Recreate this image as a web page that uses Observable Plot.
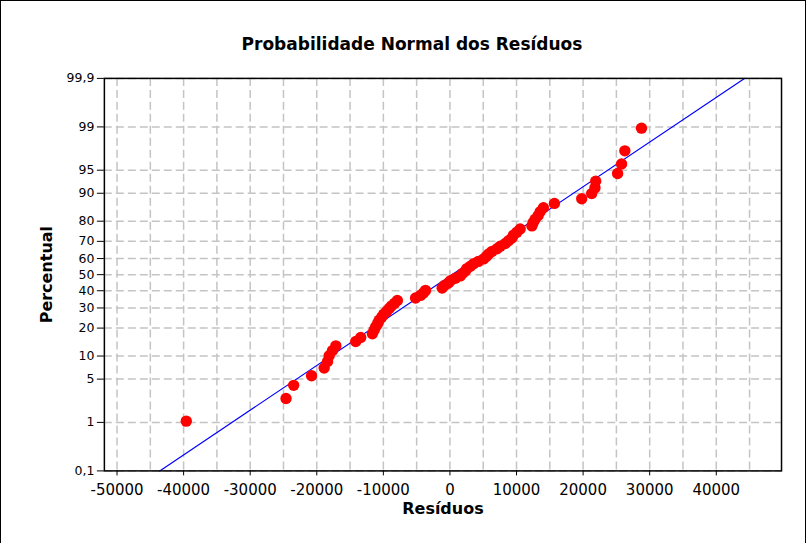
<!DOCTYPE html>
<html>
<head>
<meta charset="utf-8">
<script src="https://cdn.jsdelivr.net/npm/d3@7"></script>
<script src="https://cdn.jsdelivr.net/npm/@observablehq/plot@0.6"></script>
<style>
  html, body { margin: 0; padding: 0; background: white; }
  #wrap { position: relative; width: 806px; height: 543px; box-sizing: border-box; border: 1px solid black; border-bottom: none; overflow: hidden; }
  #title { position: absolute; top: 33px; left: 411px; transform: translateX(-50%); white-space: nowrap;
           font-family: "DejaVu Sans", sans-serif; font-weight: bold; font-size: 17px; color: black; }
  #chart { position: absolute; left: -1px; top: -1px; }
</style>
</head>
<body>
<div id="wrap">
  <div id="title">Probabilidade Normal dos Resíduos</div>
  <div id="chart"></div>
</div>
<script>
// Residuals, sorted
const residuals = [-39600, -24620, -23470, -20780, -18890, -18380, -18140, -17640, -17140, -14150,
  -13400, -11650, -11380, -11150, -10850, -10630, -10250, -9950, -9500, -9130,
  -8760, -8310, -7900, -5160, -4420, -3970, -3670, -1170, -820, -220,
  70, 820, 1570, 1870, 2320, 2540, 3070, 3560, 4270, 5060,
  5460, 5810, 6320, 7070, 7560, 8310, 8800, 9310, 9550, 10060,
  10550, 12310, 12500, 12800, 13250, 13550, 14040, 15690, 19790, 21290,
  21780, 21890, 25180, 25780, 26270, 28770];

// Fitted normal line parameters
const fitMean = 325;
const fitSd = 14210;

// Axis ticks
const percentTicks = [0.1, 1, 5, 10, 20, 30, 40, 50, 60, 70, 80, 90, 95, 99, 99.9];
const percentLabels = ["0,1", "1", "5", "10", "20", "30", "40", "50", "60", "70", "80", "90", "95", "99", "99,9"];
const xTicks = [-50000, -40000, -30000, -20000, -10000, 0, 10000, 20000, 30000, 40000];
const xGrid = [-50000, -45000, -40000, -35000, -30000, -25000, -20000, -15000, -10000, -5000, 0, 5000, 10000, 15000, 20000, 25000, 30000, 35000, 40000, 45000];

// Inverse standard normal CDF (Acklam)
function probit(p) {
  const a = [-3.969683028665376e+01, 2.209460984245205e+02, -2.759285104469687e+02, 1.383577518672690e+02, -3.066479806614716e+01, 2.506628277459239e+00];
  const b = [-5.447609879822406e+01, 1.615858368580409e+02, -1.556989798598866e+02, 6.680131188771972e+01, -1.328068155288572e+01];
  const c = [-7.784894002430293e-03, -3.223964580411365e-01, -2.400758277161838e+00, -2.549671010115154e+00, 4.374664141464968e+00, 2.938163982698783e+00];
  const d = [7.784695709041462e-03, 3.224671290700398e-01, 2.445134137142996e+00, 3.754408661907416e+00];
  const pl = 0.02425, ph = 1 - pl;
  let q, r;
  if (p < pl) {
    q = Math.sqrt(-2 * Math.log(p));
    return (((((c[0]*q+c[1])*q+c[2])*q+c[3])*q+c[4])*q+c[5]) / ((((d[0]*q+d[1])*q+d[2])*q+d[3])*q+1);
  } else if (p <= ph) {
    q = p - 0.5; r = q * q;
    return (((((a[0]*r+a[1])*r+a[2])*r+a[3])*r+a[4])*r+a[5])*q / (((((b[0]*r+b[1])*r+b[2])*r+b[3])*r+b[4])*r+1);
  } else {
    q = Math.sqrt(-2 * Math.log(1 - p));
    return -(((((c[0]*q+c[1])*q+c[2])*q+c[3])*q+c[4])*q+c[5]) / ((((d[0]*q+d[1])*q+d[2])*q+d[3])*q+1);
  }
}

const n = residuals.length;
const points = residuals.map((v, i) => ({x: v, z: probit((i + 1 - 0.3) / (n + 0.4))}));
const zLo = probit(0.001), zHi = probit(0.999);
const fitLine = [zLo, zHi].map(z => ({x: fitMean + fitSd * z, z}));
const yTickZ = percentTicks.map(p => probit(p / 100));
const labelFor = new Map(yTickZ.map((z, i) => [z, percentLabels[i]]));

const chart = Plot.plot({
  width: 806,
  height: 543,
  marginTop: 78,
  marginBottom: 72,
  marginLeft: 104,
  marginRight: 24,
  x: {domain: [-51900, 49800]},
  y: {domain: [zLo, zHi]},
  style: {fontFamily: "DejaVu Sans, sans-serif", fontSize: "12px", color: "black", background: "transparent", overflow: "visible"},
  marks: [
    Plot.gridX(xGrid, {stroke: "#c4c4c4", strokeOpacity: 1, strokeWidth: 1.5, strokeDasharray: "8,4"}),
    Plot.gridY(yTickZ, {stroke: "#c4c4c4", strokeOpacity: 1, strokeWidth: 1.5, strokeDasharray: "8,4"}),
    Plot.line(fitLine, {x: "x", y: "z", stroke: "blue", strokeWidth: 1.2}),
    Plot.dot(points, {x: "x", y: "z", r: 5.7, fill: "red", stroke: null}),
    Plot.frame({stroke: "black", strokeWidth: 1.5}),
    Plot.axisX(xTicks, {tickSize: 5, tickPadding: 8, fontSize: 15, label: null, tickFormat: d => String(d)}),
    Plot.axisY(yTickZ, {tickSize: 7, tickPadding: 3, fontSize: 12.5, label: null, tickFormat: z => labelFor.get(z)}),
    Plot.text(["Resíduos"], {frameAnchor: "bottom", dy: 43, textAnchor: "middle", fontWeight: "bold", fontSize: 16}),
    Plot.text(["Percentual"], {frameAnchor: "left", dx: -58, textAnchor: "middle", rotate: -90, fontWeight: "bold", fontSize: 16})
  ]
});
document.getElementById("chart").appendChild(chart);
</script>
</body>
</html>
